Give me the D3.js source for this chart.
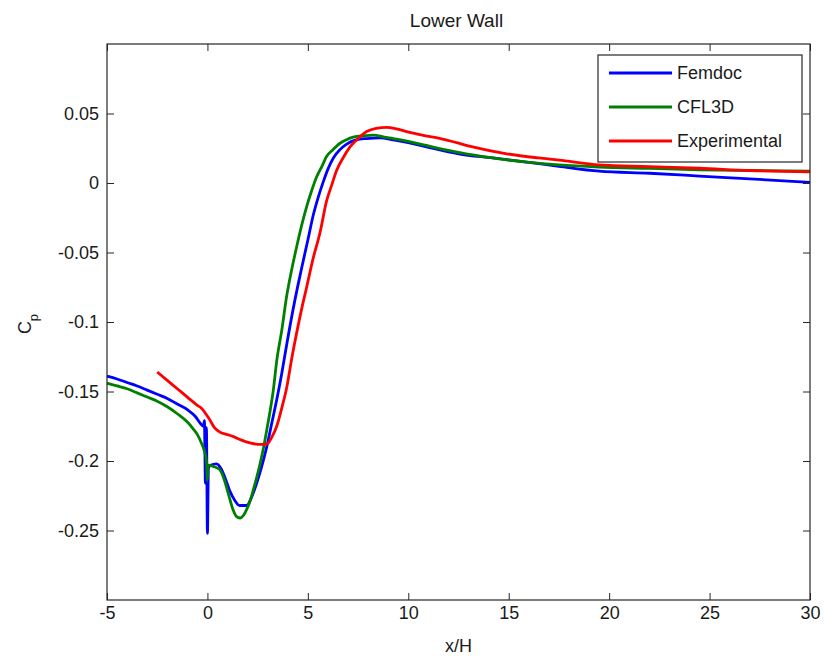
<!DOCTYPE html>
<html>
<head>
<meta charset="utf-8">
<script src="https://cdn.jsdelivr.net/npm/d3@7/dist/d3.min.js"></script>
<style>
  body { margin: 0; background: #fff; }
  svg { display: block; }
  text { font-family: "Liberation Sans", Arial, sans-serif; fill: #1a1a1a; }
</style>
</head>
<body>
<div id="chart"></div>
<script>
// Lower wall pressure coefficient: [x/H, Cp]
const femdoc = [
  [-5, -0.139], [-4.5, -0.141], [-4, -0.1435], [-3.5, -0.146], [-3, -0.149],
  [-2.5, -0.152], [-2, -0.155], [-1.5, -0.159], [-1, -0.163], [-0.6, -0.168],
  [-0.35, -0.173], [-0.2, -0.175], [-0.15, -0.171], [-0.1, -0.216], [-0.05, -0.176],
  [0, -0.252], [0.05, -0.205], [0.15, -0.203], [0.45, -0.202], [0.7, -0.206],
  [0.9, -0.213], [1.1, -0.221], [1.35, -0.228], [1.6, -0.232], [1.95, -0.232],
  [2.2, -0.226], [2.45, -0.216], [2.7, -0.204], [2.95, -0.19], [3.2, -0.173],
  [3.45, -0.156], [3.7, -0.137], [3.95, -0.116], [4.25, -0.092], [4.5, -0.074],
  [4.77, -0.056], [5.0, -0.041], [5.27, -0.023], [5.5, -0.011], [5.77, 0.001],
  [6.0, 0.01], [6.27, 0.018], [6.6, 0.024], [6.93, 0.028], [7.4, 0.031],
  [7.93, 0.032], [8.6, 0.0325], [9.25, 0.031], [10, 0.029], [10.9, 0.026],
  [12.5, 0.021], [14.2, 0.018], [15.9, 0.015], [17.5, 0.012], [19.5, 0.0085],
  [22, 0.007], [24.5, 0.005], [27, 0.003], [30, 0.0005]
];

const cfl3d = [
  [-5, -0.144], [-4.5, -0.146], [-4, -0.148], [-3.5, -0.151], [-3, -0.154],
  [-2.5, -0.157], [-2, -0.161], [-1.5, -0.166], [-1, -0.172], [-0.7, -0.177],
  [-0.5, -0.181], [-0.3, -0.187], [-0.15, -0.193], [-0.05, -0.2], [0, -0.214],
  [0.03, -0.203], [0.3, -0.204], [0.6, -0.206], [0.85, -0.214], [1.05, -0.224],
  [1.25, -0.234], [1.45, -0.24], [1.62, -0.241], [1.8, -0.239], [1.95, -0.235],
  [2.12, -0.229], [2.28, -0.221], [2.45, -0.212], [2.62, -0.202], [2.8, -0.19],
  [2.95, -0.178], [3.12, -0.164], [3.28, -0.149], [3.45, -0.128], [3.7, -0.106],
  [3.95, -0.081], [4.2, -0.062], [4.44, -0.046], [4.7, -0.03], [4.94, -0.017],
  [5.2, -0.005], [5.44, 0.0045], [5.7, 0.012], [5.93, 0.019], [6.25, 0.024],
  [6.6, 0.0286], [6.9, 0.031], [7.26, 0.033], [7.8, 0.034], [8.26, 0.0345],
  [8.8, 0.033], [9.25, 0.032], [10, 0.03], [10.9, 0.027], [12.5, 0.022],
  [14.2, 0.018], [15.9, 0.015], [17.5, 0.013], [19.5, 0.0115], [22, 0.0105],
  [24.5, 0.0095], [27, 0.009], [30, 0.0085]
];

const experimental = [
  [-2.5, -0.136], [-2, -0.142], [-1.5, -0.148], [-1, -0.154], [-0.5, -0.16],
  [-0.3, -0.162], [0.1, -0.17], [0.35, -0.176], [0.6, -0.179], [1.0, -0.181],
  [1.3, -0.1825], [1.7, -0.185], [2.12, -0.187], [2.5, -0.188], [2.95, -0.188],
  [3.2, -0.183], [3.45, -0.175], [3.7, -0.162], [3.95, -0.147], [4.2, -0.126],
  [4.44, -0.108], [4.7, -0.09], [4.94, -0.075], [5.25, -0.055], [5.6, -0.036],
  [5.93, -0.013], [6.2, -0.001], [6.43, 0.009], [6.75, 0.018], [7.1, 0.026],
  [7.5, 0.032], [7.93, 0.037], [8.4, 0.0393], [8.92, 0.04], [9.4, 0.039],
  [9.92, 0.037], [10.7, 0.0345], [11.6, 0.032], [12.4, 0.029], [13.2, 0.026],
  [14.9, 0.021], [16.5, 0.018], [17.5, 0.0165], [19.5, 0.013], [22, 0.0118],
  [24.5, 0.0106], [27, 0.009], [30, 0.008]
];

const SERIES = [
  { name: 'Femdoc',       data: femdoc,       color: '#0000ff' },
  { name: 'CFL3D',        data: cfl3d,        color: '#008000' },
  { name: 'Experimental', data: experimental, color: '#ff0000' },
];

const xTicks = [-5, 0, 5, 10, 15, 20, 25, 30];
const yTicks = [-0.25, -0.2, -0.15, -0.1, -0.05, 0, 0.05];

const totalW = 824, totalH = 660;
const margin = { top: 44, right: 14, bottom: 60, left: 107 };
const width  = totalW - margin.left - margin.right;
const height = totalH - margin.top - margin.bottom;

const svg = d3.select('#chart')
  .append('svg')
  .attr('width', totalW)
  .attr('height', totalH);

svg.append('rect')
  .attr('width', totalW).attr('height', totalH)
  .attr('fill', '#fff');

const g = svg.append('g')
  .attr('transform', `translate(${margin.left},${margin.top})`);

const x = d3.scaleLinear().domain([-5, 30]).range([0, width]);
const y = d3.scaleLinear().domain([-0.3, 0.1]).range([height, 0]);

// lines first, box and ticks drawn over them
const line = d3.line()
  .x(d => x(d[0]))
  .y(d => y(d[1]))
  .curve(d3.curveMonotoneX);

g.append('g')
  .selectAll('path')
  .data(SERIES)
  .join('path')
  .attr('d', d => line(d.data))
  .attr('fill', 'none')
  .attr('stroke', d => d.color)
  .attr('stroke-width', 2.8)
  .attr('stroke-linejoin', 'round');

// MATLAB style labels: plain hyphen, no trailing zeros
const fmt = d => String(+d.toFixed(2));

function styleAxis(sel) {
  sel.select('.domain').remove();
  sel.selectAll('line').attr('stroke', '#262626');
  sel.selectAll('text')
    .attr('font-size', 18)
    .attr('fill', '#1a1a1a')
    .style('font-family', '"Liberation Sans", Arial, sans-serif');
}

g.append('g')
  .attr('transform', `translate(0,${height})`)
  .call(d3.axisBottom(x).tickValues(xTicks).tickSize(-7).tickPadding(6).tickFormat(fmt))
  .call(styleAxis);

g.append('g')
  .call(d3.axisTop(x).tickValues(xTicks).tickSize(-7).tickFormat(''))
  .call(styleAxis);

g.append('g')
  .call(d3.axisLeft(y).tickValues(yTicks).tickSize(-7).tickPadding(8).tickFormat(fmt))
  .call(styleAxis);

g.append('g')
  .attr('transform', `translate(${width},0)`)
  .call(d3.axisRight(y).tickValues(yTicks).tickSize(-7).tickFormat(''))
  .call(styleAxis);

g.append('rect')
  .attr('width', width).attr('height', height)
  .attr('fill', 'none')
  .attr('stroke', '#262626')
  .attr('stroke-width', 1.2);

// title and axis labels
svg.append('text')
  .attr('x', margin.left + width / 2 - 2)
  .attr('y', 27)
  .attr('text-anchor', 'middle')
  .attr('font-size', 19)
  .text('Lower Wall');

svg.append('text')
  .attr('x', margin.left + width / 2)
  .attr('y', 652)
  .attr('text-anchor', 'middle')
  .attr('font-size', 18)
  .text('x/H');

const yLab = svg.append('text')
  .attr('transform', `translate(31,${margin.top + y(-0.1) + 2}) rotate(-90)`)
  .attr('text-anchor', 'middle')
  .attr('font-size', 18);
yLab.append('tspan').text('C');
yLab.append('tspan').attr('dy', 7).attr('font-size', 13).text('p');

// legend
const legend = svg.append('g')
  .attr('transform', `translate(598,55)`);

legend.append('rect')
  .attr('width', 204).attr('height', 107)
  .attr('fill', '#fff')
  .attr('stroke', '#262626')
  .attr('stroke-width', 1.2);

SERIES.forEach((s, i) => {
  const ly = 18 + i * 34;
  legend.append('line')
    .attr('x1', 11).attr('x2', 74)
    .attr('y1', ly).attr('y2', ly)
    .attr('stroke', s.color)
    .attr('stroke-width', 2.8);
  legend.append('text')
    .attr('x', 79).attr('y', ly)
    .attr('dy', '0.36em')
    .attr('font-size', 18)
    .text(s.name);
});
</script>
</body>
</html>
